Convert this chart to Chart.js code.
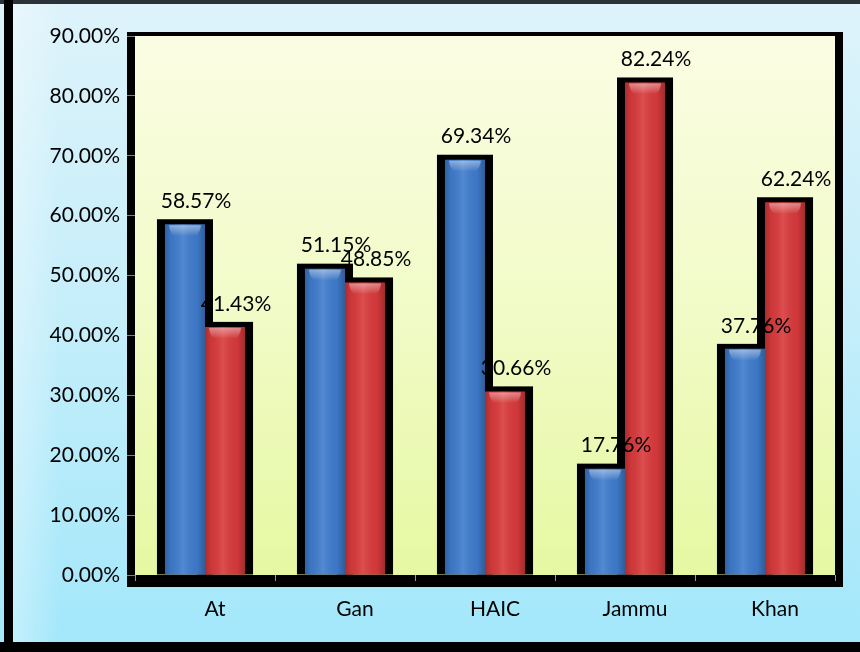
<!DOCTYPE html>
<html><head><meta charset="utf-8">
<script src="https://cdn.jsdelivr.net/npm/chart.js@4.4.0/dist/chart.umd.min.js"></script>
<style>html,body{margin:0;padding:0;background:#fff}#wrap{width:860px;height:652px;overflow:hidden}</style>
</head><body><div id="wrap"><canvas id="c" width="860" height="652"></canvas></div>
<script>
const categories = ['At', 'Gan', 'HAIC', 'Jammu', 'Khan'];
const seriesBlue = [58.57, 51.15, 69.34, 17.76, 37.76];
const seriesRed = [41.43, 48.85, 30.66, 82.24, 62.24];
const yTickValues = [0, 10, 20, 30, 40, 50, 60, 70, 80, 90];

const FONT = 'Lato, "Open Sans", sans-serif';
const FSIZE = 21;

const framePlugin = {
  id: 'frame',
  beforeDraw(chart) {
    const ctx = chart.ctx, W = chart.width, H = chart.height, ca = chart.chartArea;
    ctx.save();
    // outer background
    const og = ctx.createLinearGradient(0, 0, 0, H);
    og.addColorStop(0, '#def3fa');
    og.addColorStop(0.5, '#c4eefa');
    og.addColorStop(1, '#a2e7fb');
    ctx.fillStyle = og;
    ctx.fillRect(0, 0, W, H);
    const lg = ctx.createLinearGradient(13, 0, 60, 0);
    lg.addColorStop(0, 'rgba(255,255,255,0.35)');
    lg.addColorStop(1, 'rgba(255,255,255,0)');
    ctx.fillStyle = lg;
    ctx.fillRect(13, 4, 50, 638);
    // outer dark edges
    ctx.fillStyle = '#2b3338';
    ctx.fillRect(0, 0, W, 4);
    ctx.fillStyle = '#000';
    ctx.fillRect(4, 0, 9, H);
    ctx.fillRect(0, 642, W, H - 642);
    // plot background
    const pg = ctx.createLinearGradient(0, ca.top, 0, ca.bottom);
    pg.addColorStop(0, '#fbfde3');
    pg.addColorStop(0.5, '#f1fbc8');
    pg.addColorStop(1, '#e6f8a2');
    ctx.fillStyle = pg;
    ctx.fillRect(ca.left, ca.top, ca.right - ca.left, ca.bottom - ca.top);
    // walls / floor edges
    ctx.fillStyle = '#000';
    ctx.fillRect(ca.left - 8, ca.top - 4, 8, ca.bottom - ca.top + 16);
    ctx.fillRect(ca.left - 8, ca.top - 4, ca.right - ca.left + 16, 4);
    ctx.fillRect(ca.right, ca.top - 4, 8, ca.bottom - ca.top + 16);
    ctx.fillRect(ca.left - 8, ca.bottom, ca.right - ca.left + 16, 12);
    ctx.restore();
  },
  beforeDatasetsDraw(chart) {
    const ctx = chart.ctx;
    ctx.save();
    ctx.fillStyle = '#000';
    chart.data.datasets.forEach((ds, i) => {
      chart.getDatasetMeta(i).data.forEach(bar => {
        const w = bar.width;
        ctx.fillRect(bar.x - w / 2 - 8, bar.y - 5, w + 16, bar.base - bar.y + 5);
      });
    });
    ctx.restore();
  },
  afterDatasetsDraw(chart) {
    const ctx = chart.ctx;
    ctx.save();
    chart.data.datasets.forEach((ds, i) => {
      chart.getDatasetMeta(i).data.forEach(bar => {
        const w = bar.width, l = bar.x - w / 2, h = bar.base - bar.y;
        const g = ctx.createLinearGradient(l, 0, l + w, 0);
        g.addColorStop(0, 'rgba(0,0,0,0.22)');
        g.addColorStop(0.15, 'rgba(0,0,0,0.05)');
        g.addColorStop(0.45, 'rgba(255,255,255,0.10)');
        g.addColorStop(0.8, 'rgba(0,0,0,0.04)');
        g.addColorStop(1, 'rgba(0,0,0,0.25)');
        ctx.fillStyle = g;
        ctx.fillRect(l, bar.y, w, h);
        // top highlight cap
        const tg = ctx.createLinearGradient(0, bar.y, 0, bar.y + 12);
        tg.addColorStop(0, 'rgba(255,255,255,0.45)');
        tg.addColorStop(1, 'rgba(255,255,255,0)');
        ctx.fillStyle = tg;
        ctx.beginPath();
        ctx.moveTo(l + 4, bar.y + 1);
        ctx.lineTo(l + w - 4, bar.y + 1);
        ctx.quadraticCurveTo(l + w - 5, bar.y + 9, l + w - 9, bar.y + 11);
        ctx.lineTo(l + 9, bar.y + 11);
        ctx.quadraticCurveTo(l + 5, bar.y + 9, l + 4, bar.y + 1);
        ctx.fill();
      });
    });
    // data labels
    ctx.fillStyle = '#000';
    ctx.font = FSIZE + 'px ' + FONT;
    ctx.textAlign = 'center';
    ctx.textBaseline = 'middle';
    chart.data.datasets.forEach((ds, i) => {
      chart.getDatasetMeta(i).data.forEach((bar, j) => {
        ctx.fillText(ds.data[j].toFixed(2) + '%', bar.x + 11, bar.y - 23);
      });
    });
    ctx.restore();
  }
};

new Chart(document.getElementById('c'), {
  type: 'bar',
  data: {
    labels: categories,
    datasets: [
      { label: 'Series 1', data: seriesBlue, backgroundColor: '#3f7ccd', borderWidth: 0,
        categoryPercentage: 0.572, barPercentage: 1.0 },
      { label: 'Series 2', data: seriesRed, backgroundColor: '#d93a3c', borderWidth: 0,
        categoryPercentage: 0.572, barPercentage: 1.0 }
    ]
  },
  options: {
    responsive: false,
    devicePixelRatio: 1,
    animation: false,
    layout: { padding: { left: 0, right: 25, top: 36, bottom: 17 } },
    plugins: { legend: { display: false }, tooltip: { enabled: false } },
    scales: {
      x: {
        grid: { offset: true, drawOnChartArea: false, tickLength: 6, color: 'rgba(255,255,255,0.6)' },
        border: { display: false },
        ticks: { color: '#000', font: { family: FONT, size: FSIZE }, padding: 16, labelOffset: 10 },
        afterFit(scale) { scale.height = 60; }
      },
      y: {
        min: 0, max: 90,
        grid: { drawOnChartArea: false, tickLength: 8, color: 'rgba(255,255,255,0.5)' },
        border: { display: false },
        afterBuildTicks(scale) { scale.ticks = yTickValues.map(v => ({ value: v })); },
        ticks: { color: '#000', font: { family: FONT, size: FSIZE }, padding: 7,
          callback: v => v.toFixed(2) + '%' },
        afterFit(scale) { scale.width = 135; }
      }
    }
  },
  plugins: [framePlugin]
});
</script>
</body></html>
